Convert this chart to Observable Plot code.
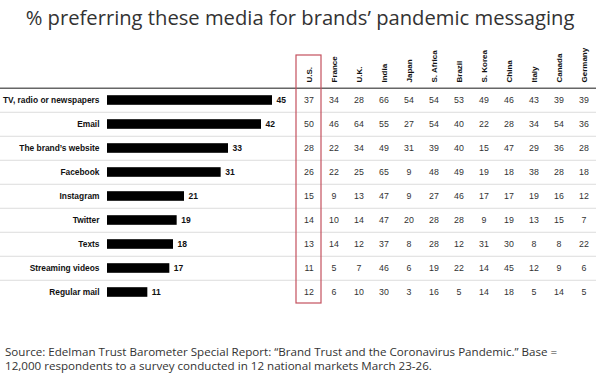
<!DOCTYPE html>
<html>
<head>
<meta charset="utf-8">
<script src="https://cdn.jsdelivr.net/npm/d3@7"></script>
<script src="https://cdn.jsdelivr.net/npm/@observablehq/plot@0.6"></script>
<style>
  html, body { margin: 0; padding: 0; background: #fff; }
  #wrap { width: 600px; height: 375px; position: relative; overflow: hidden; }
  #title { height: 40px; line-height: 34px; text-align: center; font-family: "Open Sans", sans-serif; font-size: 20.2px; color: #333; white-space: nowrap; }
  #charts { display: flex; align-items: flex-start; }
  #charts svg { display: block; flex: none; }
  #footer { margin-top: 35px; padding-left: 5px; font-family: "Open Sans", sans-serif; font-size: 11.6px; line-height: 14px; color: #333; }
</style>
</head>
<body>
<div id="wrap">
  <div id="title">% preferring these media for brands’ pandemic messaging</div>
  <div id="charts"></div>
  <div id="footer">Source: Edelman Trust Barometer Special Report: “Brand Trust and the Coronavirus Pandemic.” Base =<br>12,000 respondents to a survey conducted in 12 national markets March 23-26.</div>
</div>
<script>
// ---- data ----
const media = ["TV, radio or newspapers", "Email", "The brand’s website", "Facebook", "Instagram", "Twitter", "Texts", "Streaming videos", "Regular mail"];
const globalValues = [45, 42, 33, 31, 21, 19, 18, 17, 11];
const countries = ["U.S.", "France", "U.K.", "India", "Japan", "S. Africa", "Brazil", "S. Korea", "China", "Italy", "Canada", "Germany"];
const tvRadio     = [37, 34, 28, 66, 54, 54, 53, 49, 46, 43, 39, 39];
const email       = [50, 46, 64, 55, 27, 54, 40, 22, 28, 34, 54, 36];
const website     = [28, 22, 34, 49, 31, 39, 40, 15, 47, 29, 36, 28];
const facebook    = [26, 22, 25, 65,  9, 48, 49, 19, 18, 38, 28, 18];
const instagram   = [15,  9, 13, 47,  9, 27, 46, 17, 17, 19, 16, 12];
const twitter     = [14, 10, 14, 47, 20, 28, 28,  9, 19, 13, 15,  7];
const texts       = [13, 14, 12, 37,  8, 28, 12, 31, 30,  8,  8, 22];
const streaming   = [11,  5,  7, 46,  6, 19, 22, 14, 45, 12,  9,  6];
const regularMail = [12,  6, 10, 30,  3, 16,  5, 14, 18,  5, 14,  5];
const highlighted = ["U.S."];

const rows = [tvRadio, email, website, facebook, instagram, twitter, texts, streaming, regularMail];
const bars = media.map((m, i) => ({media: m, value: globalValues[i]}));
const cells = [];
rows.forEach((r, i) => r.forEach((v, j) => cells.push({media: media[i], country: countries[j], value: v})));

// ---- layout ----
const H = 270, MT = 46, MB = 4;
const step = (H - MT - MB) / media.length;
const font = "'Liberation Sans', Arial, Helvetica, sans-serif";
const yScale = () => ({type: "band", domain: media, padding: 0, axis: null});

const leftML = 107, leftMR = 24;
const left = Plot.plot({
  width: 296, height: H,
  marginLeft: leftML, marginRight: leftMR, marginTop: MT, marginBottom: MB,
  style: {fontFamily: font, fontSize: "8.5px", overflow: "visible", background: "transparent"},
  x: {domain: [0, 45], axis: null},
  y: yScale(),
  marks: [
    Plot.ruleY(media.slice(1), {y: d => d, dy: -step / 2, stroke: "#dcdcdc", strokeWidth: 1, insetLeft: -leftML, insetRight: -leftMR}),
    Plot.ruleY(media.slice(0, 1), {y: d => d, dy: -step / 2, stroke: "#666", strokeWidth: 1.5, insetLeft: -leftML, insetRight: -leftMR}),
    Plot.barX(bars, {x: "value", y: "media", fill: "#000", insetTop: 7.2, insetBottom: 7.2}),
    Plot.text(bars, {x: "value", y: "media", text: d => String(d.value), dx: 4, textAnchor: "start", fontWeight: "bold", fontSize: 8.5, fill: "#111"}),
    Plot.text(media, {y: d => d, frameAnchor: "left", dx: -8, textAnchor: "end", fontWeight: "bold", fontSize: 8.4, fill: "#111"})
  ]
});

const right = Plot.plot({
  width: 304, height: H,
  marginLeft: 0, marginRight: 4, marginTop: MT, marginBottom: MB,
  style: {fontFamily: font, fontSize: "9px", overflow: "visible", background: "transparent"},
  x: {type: "band", domain: countries, padding: 0, axis: null},
  y: yScale(),
  marks: [
    Plot.ruleY(media.slice(1), {y: d => d, dy: -step / 2, stroke: "#dcdcdc", strokeWidth: 1}),
    Plot.ruleY(media.slice(0, 1), {y: d => d, dy: -step / 2, stroke: "#666", strokeWidth: 1.5}),
    Plot.cell(highlighted, {x: d => d, fill: "none", stroke: "#c4505e", strokeWidth: 1.2, insetTop: -31, insetBottom: 3}),
    Plot.text(countries, {x: d => d, frameAnchor: "top", dy: -4, rotate: -90, textAnchor: "start", lineAnchor: "middle", fontWeight: "bold", fontSize: 8, fill: "#111"}),
    Plot.text(cells, {x: "country", y: "media", text: d => String(d.value), fontSize: 8.8, fill: "#333"})
  ]
});

const charts = document.getElementById("charts");
charts.appendChild(left);
charts.appendChild(right);
</script>
</body>
</html>
